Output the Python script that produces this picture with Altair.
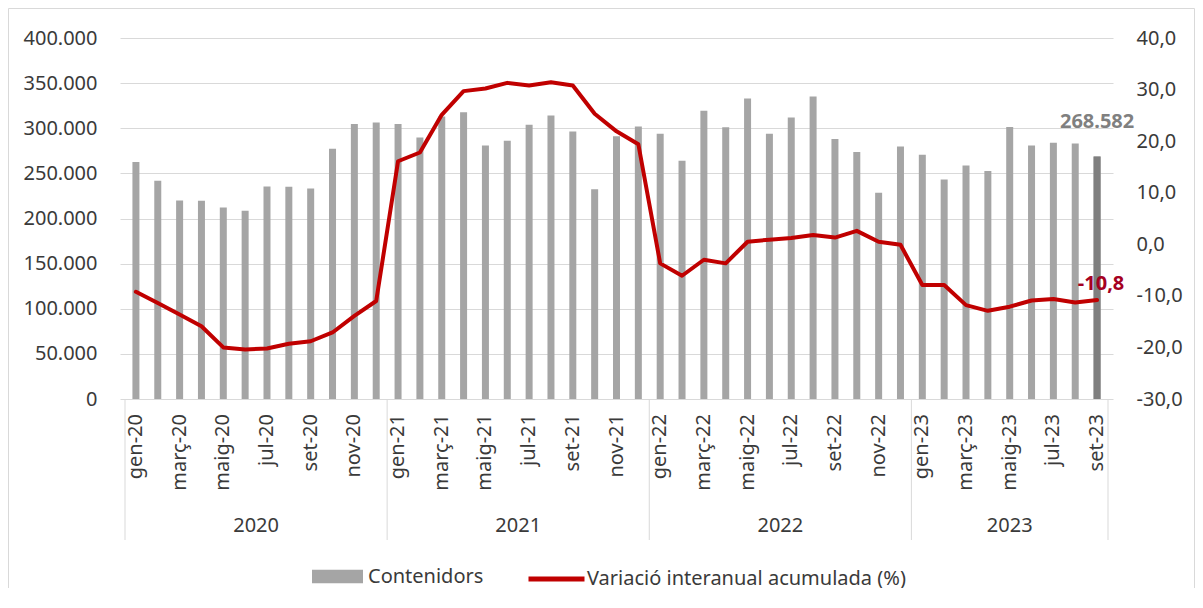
import altair as alt
import pandas as pd

# ---------------- data ----------------
mesos = ["gen", "febr", "març", "abr", "maig", "juny", "jul", "ag", "set", "oct", "nov", "des"]
anys = ["2020", "2021", "2022", "2023"]
etiquetes = [f"{m}-{a[2:]}" for a in anys for m in mesos][:45]

contenidors = [
    262500, 241800, 220000, 219600, 212200, 208500, 235500, 235100, 233300, 277300, 304600, 306500,
    304600, 289800, 313000, 317600, 281000, 286100, 303900, 314200, 296500, 232500, 291000, 302000,
    294000, 264000, 319400, 301000, 333000, 294000, 312000, 335300, 288000, 273600, 228500, 279900,
    270600, 243300, 258800, 252500, 301300, 281000, 283900, 283200, 268582,
]
variacio = [
    -9.2, -11.4, -13.6, -15.9, -20.0, -20.4, -20.2, -19.3, -18.8, -17.1, -13.9, -11.0,
    16.1, 17.8, 25.1, 29.7, 30.2, 31.3, 30.8, 31.4, 30.8, 25.3, 21.9, 19.4,
    -3.7, -6.1, -3.0, -3.7, 0.5, 0.9, 1.2, 1.8, 1.3, 2.6, 0.5, -0.1,
    -7.9, -7.9, -11.8, -12.9, -12.1, -10.9, -10.6, -11.3, -10.8,
]
serie_barres = "Contenidors"
serie_linia = "Variació interanual acumulada (%)"
ticks_esq = [0, 50000, 100000, 150000, 200000, 250000, 300000, 350000, 400000]
ticks_dre = [-30, -20, -10, 0, 10, 20, 30, 40]

# ---------------- frames ----------------
FONT = "Noto Sans"
TXT = "#3A3A3A"
GRID = "#D9D9D9"
W, H = 993, 361
N = len(etiquetes)

df = pd.DataFrame({
    "pos": [i + 0.5 for i in range(N)],
    "etiqueta": etiquetes,
    "contenidors": contenidors,
    "variacio": variacio,
    "s1": serie_barres,
    "s2": serie_linia,
})
last = df.tail(1).copy()
last["txt_bar"] = f"{contenidors[-1]:,}".replace(",", ".")
last["txt_lin"] = f"{variacio[-1]:.1f}".replace(".", ",")

year_of = [e.split("-")[1] for e in etiquetes]
counts = [sum(1 for y in year_of if y == a[2:]) for a in anys]
starts = [sum(counts[:k]) for k in range(len(anys))]
df_anys = pd.DataFrame({"any": anys, "pos": [s + c / 2 for s, c in zip(starts, counts)]})
df_div = pd.DataFrame({"pos": starts + [N]})

xs = alt.Scale(domain=[0, N], nice=False, zero=False)
X = alt.X("pos:Q", scale=xs, axis=None)

y_left = alt.Y(
    "contenidors:Q",
    stack=None,
    scale=alt.Scale(domain=[0, 400000], nice=False, zero=True),
    axis=alt.Axis(
        values=ticks_esq,
        labelExpr="replace(format(datum.value, ','), ',', '.')",
        grid=True, gridColor=GRID, gridWidth=1,
        domain=False, ticks=False, tickSize=0, labelPadding=23,
        labelFont=FONT, labelFontSize=20, labelColor=TXT, title=None,
    ),
)

frame = alt.Chart(pd.DataFrame({"a": [0]})).mark_rect(
    fillOpacity=0, stroke=GRID, strokeWidth=1
).encode(
    x=alt.value(-111.5), x2=alt.value(1074.5), y=alt.value(-29.5), y2=alt.value(650)
)

bars = alt.Chart(df).mark_bar(size=7, orient="vertical").encode(
    x=X,
    y=y_left,
    color=alt.Color(
        "s1:N",
        scale=alt.Scale(domain=[serie_barres], range=["#A5A5A5"]),
        legend=alt.Legend(
            title=None, orient="none", legendX=192, legendY=513, direction="horizontal",
            symbolType="M-1,-0.26H1V0.26H-1Z", symbolSize=2601, symbolStrokeWidth=0,
            labelFont=FONT, labelFontSize=20, labelColor=TXT, labelOffset=5, padding=0,
            labelLimit=400,
        ),
    ),
)

last_bar = alt.Chart(last).mark_bar(size=7, orient="vertical", color="#7F7F7F").encode(
    x=X, y=alt.Y("contenidors:Q", stack=None)
)

bar_label = alt.Chart(last).mark_text(
    font=FONT, fontSize=20, fontWeight="bold", color="#808080",
    baseline="alphabetic", align="center", dy=-29,
).encode(x=X, y=alt.Y("contenidors:Q", stack=None), text="txt_bar:N")

month_labels = alt.Chart(df.iloc[::2]).mark_text(
    angle=270, align="right", baseline="middle", font=FONT, fontSize=20, color=TXT, dx=4
).encode(x=X, y=alt.value(380), text="etiqueta:N")

year_labels = alt.Chart(df_anys).mark_text(
    align="center", baseline="middle", font=FONT, fontSize=20, color=TXT
).encode(x=X, y=alt.value(488), text="any:N")

dividers = alt.Chart(df_div).mark_rule(color=GRID, strokeWidth=1).encode(
    x=X, y=alt.value(H), y2=alt.value(502)
)

left = alt.layer(frame, bars, last_bar, bar_label, month_labels, year_labels, dividers)

y_right = alt.Y(
    "variacio:Q",
    scale=alt.Scale(domain=[-30, 40], nice=False, zero=False),
    axis=alt.Axis(
        orient="right", values=ticks_dre,
        labelExpr="(datum.value < 0 ? '-' : '') + replace(format(abs(datum.value), '.1f'), '.', ',')",
        grid=False, domain=False, ticks=False, tickSize=0, labelPadding=23,
        labelFont=FONT, labelFontSize=20, labelColor=TXT, title=None,
    ),
)

line = alt.Chart(df).mark_line(strokeWidth=4, strokeJoin="round", strokeCap="round").encode(
    x=X,
    y=y_right,
    stroke=alt.Stroke(
        "s2:N",
        scale=alt.Scale(domain=[serie_linia], range=["#C00000"]),
        legend=alt.Legend(
            title=None, orient="none", legendX=406, legendY=510.5, direction="horizontal",
            symbolType="stroke", symbolSize=3136, symbolStrokeWidth=5,
            labelFont=FONT, labelFontSize=20, labelColor=TXT, labelOffset=0, padding=0,
            labelLimit=400,
        ),
    ),
)

line_label = alt.Chart(last).mark_text(
    font=FONT, fontSize=20, fontWeight="bold", color="#A50021",
    baseline="alphabetic", align="center", dy=-10, dx=4,
).encode(x=X, y=alt.Y("variacio:Q"), text="txt_lin:N")

right = alt.layer(line, line_label)

chart = alt.layer(left, right).resolve_scale(y="independent").properties(
    width=W, height=H,
    autosize=alt.AutoSizeParams(type="none"),
    padding={"left": 112, "top": 30, "right": 82, "bottom": 189},
).configure_view(stroke=None)

chart.save("out.html", embed_options={"renderer": "svg", "actions": False})
